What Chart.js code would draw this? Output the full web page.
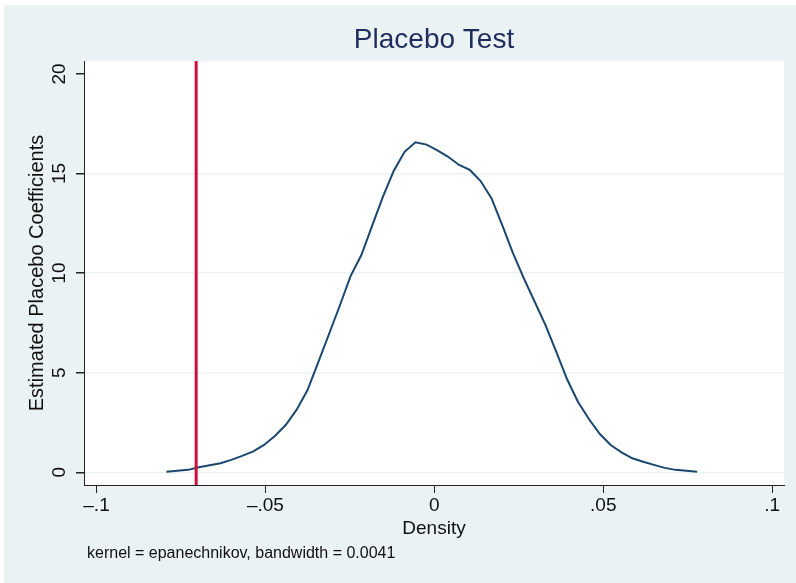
<!DOCTYPE html>
<html>
<head>
<meta charset="utf-8">
<script src="https://cdn.jsdelivr.net/npm/chart.js@4.4.0/dist/chart.umd.min.js"></script>
<style>
  html, body { margin: 0; padding: 0; background: #fff; }
  #wrap { width: 796px; height: 583px; }
</style>
</head>
<body>
<div id="wrap"><canvas id="c"></canvas></div>
<script>
// kdensity of placebo coefficients (50 evaluation points)
const densX = [
  -0.0793, -0.0761, -0.0729, -0.0697, -0.0665, -0.0633, -0.0601, -0.0569, -0.0536, -0.0504,
  -0.0472, -0.0440, -0.0408, -0.0376, -0.0344, -0.0312, -0.0280, -0.0248, -0.0216, -0.0184,
  -0.0152, -0.0120, -0.0088, -0.0056, -0.0023, 0.0009, 0.0041, 0.0073, 0.0105, 0.0137,
  0.0169, 0.0201, 0.0233, 0.0265, 0.0297, 0.0329, 0.0361, 0.0393, 0.0425, 0.0458,
  0.0490, 0.0522, 0.0554, 0.0586, 0.0618, 0.0650, 0.0682, 0.0714, 0.0746, 0.0778
];
const densY = [
  0.03, 0.07, 0.12, 0.25, 0.35, 0.45, 0.62, 0.82, 1.05, 1.37,
  1.82, 2.37, 3.13, 4.10, 5.50, 6.93, 8.36, 9.85, 10.91, 12.38,
  13.84, 15.14, 16.09, 16.57, 16.45, 16.16, 15.84, 15.43, 15.18, 14.62,
  13.76, 12.41, 10.99, 9.74, 8.56, 7.39, 6.05, 4.67, 3.54, 2.66,
  1.92, 1.37, 1.00, 0.70, 0.53, 0.37, 0.22, 0.12, 0.07, 0.03
];
const trueEffect = -0.0705;   // red vertical line

const xTicks = [-0.1, -0.05, 0, 0.05, 0.1];
const xTickLabels = ['\u2013.1', '\u2013.05', '0', '.05', '.1'];
const yTicks = [0, 5, 10, 15, 20];
const yTickLabels = ['0', '5', '10', '15', '20'];

const noteText = 'kernel = epanechnikov, bandwidth = 0.0041';

const FONT = '"Liberation Sans", Arial, Helvetica, sans-serif';
const BG = '#eaf2f3';

const points = densX.map((x, i) => ({ x, y: densY[i] }));

const stataBg = {
  id: 'stataBg',
  beforeDraw(chart) {
    const { ctx, width, height, chartArea: a } = chart;
    ctx.save();
    ctx.fillStyle = '#fff';
    ctx.fillRect(0, 0, width, height);
    ctx.fillStyle = BG;
    ctx.fillRect(4, 5, width - 4, height - 5);
    ctx.fillStyle = '#fff';
    ctx.fillRect(a.left, a.top, a.right - a.left, a.bottom - a.top);
    ctx.restore();
  }
};

const xLine = {
  id: 'xLine',
  afterDatasetsDraw(chart) {
    const { ctx, chartArea: a, scales } = chart;
    const px = scales.x.getPixelForValue(trueEffect);
    ctx.save();
    ctx.strokeStyle = '#c8103c';
    ctx.lineWidth = 3;
    ctx.beginPath();
    ctx.moveTo(px, a.top);
    ctx.lineTo(px, a.bottom);
    ctx.stroke();
    ctx.restore();
  }
};

const note = {
  id: 'note',
  afterDraw(chart) {
    const { ctx } = chart;
    ctx.save();
    ctx.font = '16px ' + FONT;
    ctx.fillStyle = '#111';
    ctx.textBaseline = 'middle';
    ctx.textAlign = 'left';
    ctx.fillText(noteText, 87, 554);
    ctx.restore();
  }
};

new Chart(document.getElementById('c'), {
  type: 'scatter',
  data: {
    datasets: [{
      data: points,
      showLine: true,
      borderColor: '#1a476f',
      borderWidth: 2,
      pointRadius: 0,
      tension: 0,
      fill: false
    }]
  },
  options: {
    responsive: true,
    maintainAspectRatio: false,
    animation: false,
    layout: { padding: { left: 0, right: 12, top: 0, bottom: 43 } },
    plugins: {
      legend: { display: false },
      tooltip: { enabled: false },
      title: {
        display: true,
        text: 'Placebo Test',
        fullSize: false,
        color: '#1f2d5c',
        font: { family: FONT, size: 28, weight: 'normal' },
        padding: { top: 23, bottom: 4.4 }
      }
    },
    scales: {
      x: {
        type: 'linear',
        min: -0.1037,
        max: 0.1035,
        afterBuildTicks: s => { s.ticks = xTicks.map(v => ({ value: v })); },
        afterFit: s => { s.height = 55; },
        grid: { drawOnChartArea: false, drawTicks: true, tickLength: 8, tickColor: '#222' },
        border: { color: '#222', width: 1 },
        ticks: {
          autoSkip: false,
          maxRotation: 0,
          padding: 1,
          color: '#111',
          font: { family: FONT, size: 19 },
          callback: (v, i) => xTickLabels[i]
        },
        title: {
          display: true,
          text: 'Density',
          color: '#111',
          font: { family: FONT, size: 19 },
          padding: 0
        }
      },
      y: {
        type: 'linear',
        min: -0.64,
        max: 20.65,
        afterBuildTicks: s => { s.ticks = yTicks.map(v => ({ value: v })); },
        afterFit: s => { s.width = 84; },
        grid: {
          color: ctx => (ctx.tick && ctx.tick.value === 20) ? 'rgba(0,0,0,0)' : BG,
          lineWidth: 1.5,
          drawTicks: true,
          tickLength: 8,
          tickColor: '#222'
        },
        border: { color: '#222', width: 1 },
        ticks: {
          autoSkip: false,
          minRotation: 90,
          maxRotation: 90,
          crossAlign: 'center',
          padding: 6,
          color: '#111',
          font: { family: FONT, size: 19 },
          callback: (v, i) => yTickLabels[i]
        },
        title: {
          display: true,
          text: 'Estimated Placebo Coefficients',
          color: '#111',
          font: { family: FONT, size: 20 },
          padding: 25
        }
      }
    }
  },
  plugins: [stataBg, xLine, note]
});
</script>
</body>
</html>
